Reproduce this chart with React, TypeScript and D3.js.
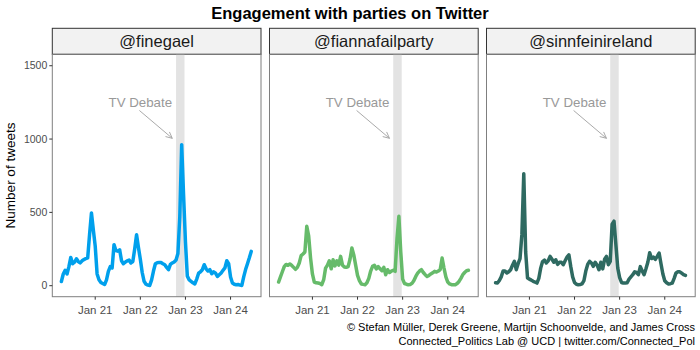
import React from "react";
import * as d3 from "d3";

const parties = ["@finegael", "@fiannafailparty", "@sinnfeinireland"];
const lineColors = ["#00A0EC", "#66BB6A", "#2E6A61"];

// hourly values, starting 20 Jan 2020 06:00
const fineGael = [
  29, 80, 105, 80, 130, 193, 150, 160, 184, 165,
  155, 170, 178, 185, 190, 350, 496, 380, 270, 80,
  40, 22, 15, 8, 40, 98, 130, 121, 280, 240,
  235, 245, 170, 150, 160, 170, 175, 155, 165, 250,
  348, 260, 180, 90, 30, 10, 4, 2, 40, 100,
  150, 157, 159, 158, 150, 143, 125, 110, 145, 155,
  162, 175, 220, 470, 962, 620, 300, 65, 40, 30,
  20, 12, 45, 85, 95, 109, 143, 115, 100, 109,
  82, 95, 85, 63, 75, 87, 105, 121, 170, 150,
  60, 18, 10, 7, 8, 4, 2, 60, 110, 150,
  190, 234,
];
const fiannaFail = [
  25, 60, 95, 130, 145, 139, 148, 138, 125, 112,
  125, 155, 205, 216, 230, 405, 340, 190, 80, 25,
  20, 18, 15, 7, 41, 120, 140, 170, 115, 177,
  135, 170, 140, 200, 140, 128, 125, 130, 180, 257,
  210, 140, 70, 35, 12, 9, 7, 20, 50, 100,
  132, 139, 115, 130, 115, 102, 125, 75, 109, 90,
  100, 105, 98, 320, 473, 230, 45, 15, 10, 7,
  8, 16, 35, 63, 85, 100, 109, 90, 75, 63,
  70, 80, 88, 98, 93, 100, 110, 189, 120, 60,
  25, 12, 7, 7, 7, 15, 29, 50, 75, 90,
  102, 105,
];
const sinnFein = [
  20, 18, 35, 60, 100, 100, 87, 95, 109, 140,
  166, 109, 150, 185, 350, 764, 230, 52, 45, 38,
  30, 25, 18, 50, 120, 165, 175, 155, 170, 200,
  180, 160, 177, 145, 160, 160, 143, 170, 195, 211,
  130, 60, 22, 10, 7, 8, 12, 35, 100, 145,
  166, 155, 132, 160, 140, 109, 160, 115, 180, 200,
  143, 166, 420, 440, 280, 120, 55, 22, 18, 18,
  20, 45, 60, 75, 95, 90, 75, 130, 100, 75,
  115, 160, 225, 185, 195, 180, 200, 223, 150, 80,
  34, 20, 12, 14, 18, 50, 87, 95, 95, 85,
  75, 70,
];
const seriesList = [fineGael, fiannaFail, sinnFein];

const yTicks = [0, 500, 1000, 1500];
const xTickLabels = ["Jan 21", "Jan 22", "Jan 23", "Jan 24"];
const xTickDates = [
  new Date(2020, 0, 21),
  new Date(2020, 0, 22),
  new Date(2020, 0, 23),
  new Date(2020, 0, 24),
];
const debateStart = new Date(2020, 0, 22, 19, 0);
const debateEnd = new Date(2020, 0, 22, 23, 30);
const labelAt = { time: new Date(2020, 0, 22, 0, 0), value: 1250 };
const arrowFrom = { time: new Date(2020, 0, 21, 23, 30), value: 1195 };
const arrowTo = { time: new Date(2020, 0, 22, 17, 0), value: 1005 };

const W = 700;
const H = 350;
const panelLefts = [52.3, 269.5, 486.5];
const panelW = 208.7;
const stripTop = 28.3;
const stripBottom = 54.3;
const panelBottom = 296.7;
const font = "'Liberation Sans', Arial, Helvetica, sans-serif";

export default function App() {
  const x = d3
    .scaleTime()
    .domain([new Date(2020, 0, 20, 1, 10), new Date(2020, 0, 24, 16, 12)])
    .range([0, panelW]);
  const y = d3.scaleLinear().domain([-75, 1578]).range([panelBottom, stripBottom]);
  const timeOf = (i: number) => new Date(2020, 0, 20, 6 + i);
  const line = d3
    .line<number>()
    .x((_, i) => x(timeOf(i)))
    .y((d) => y(d));

  const ax1 = x(arrowFrom.time), ay1 = y(arrowFrom.value);
  const ax2 = x(arrowTo.time), ay2 = y(arrowTo.value);
  const ang = Math.atan2(ay2 - ay1, ax2 - ax1);
  const headLen = 7;
  const headA = Math.PI / 7;
  const head = [
    [ax2 - headLen * Math.cos(ang - headA), ay2 - headLen * Math.sin(ang - headA)],
    [ax2, ay2],
    [ax2 - headLen * Math.cos(ang + headA), ay2 - headLen * Math.sin(ang + headA)],
  ];

  return (
    <svg width={W} height={H} style={{ display: "block", position: "absolute", left: 0, top: 0 }} fontFamily={font}>
      <rect width={W} height={H} fill="#fff" />
      <text x={350} y={19} textAnchor="middle" fontSize={16.5} fontWeight="bold" fill="#000">
        Engagement with parties on Twitter
      </text>
      <text
        transform={`translate(15,${(stripBottom + panelBottom) / 2}) rotate(-90)`}
        textAnchor="middle"
        fontSize={13.5}
        fill="#000"
      >
        Number of tweets
      </text>
      {panelLefts.map((left, p) => (
        <g key={p} transform={`translate(${left},0)`}>
          <rect x={0} y={stripTop} width={panelW} height={stripBottom - stripTop} fill="#f2f2f2" stroke="#333" strokeWidth={1} />
          <text x={panelW / 2} y={stripTop + 19} textAnchor="middle" fontSize={16.5} fill="#1a1a1a">
            {parties[p]}
          </text>
          <rect
            x={x(debateStart)}
            y={stripBottom}
            width={x(debateEnd) - x(debateStart)}
            height={panelBottom - stripBottom}
            fill="#e3e3e3"
          />
          <path
            d={line(seriesList[p]) || ""}
            fill="none"
            stroke={lineColors[p]}
            strokeWidth={3.5}
            strokeLinejoin="round"
            strokeLinecap="round"
          />
          <text x={x(labelAt.time)} y={y(labelAt.value) + 4.5} textAnchor="middle" fontSize={13.3} fill="#999">
            TV Debate
          </text>
          <line x1={ax1} y1={ay1} x2={ax2} y2={ay2} stroke="#aaa" strokeWidth={1} />
          <polyline points={head.map((d) => d.join(",")).join(" ")} fill="none" stroke="#aaa" strokeWidth={1} />
          <rect x={0} y={stripBottom} width={panelW} height={panelBottom - stripBottom} fill="none" stroke="#7f7f7f" strokeWidth={1} />
          {xTickDates.map((d, i) => (
            <g key={i} transform={`translate(${x(d)},${panelBottom})`}>
              <line y1={0} y2={3} stroke="#333" strokeWidth={1} />
              <text y={17} textAnchor="middle" fontSize={11.5} fill="#4d4d4d">
                {xTickLabels[i]}
              </text>
            </g>
          ))}
          {p === 0 &&
            yTicks.map((t) => (
              <g key={t} transform={`translate(0,${y(t)})`}>
                <line x1={-3} x2={0} stroke="#333" strokeWidth={1} />
                <text x={-5} dy="0.35em" textAnchor="end" fontSize={10.5} fill="#4d4d4d">
                  {t}
                </text>
              </g>
            ))}
        </g>
      ))}
      <text x={695} y={331} textAnchor="end" fontSize={11} fill="#000">
        © Stefan Müller, Derek Greene, Martijn Schoonvelde, and James Cross
      </text>
      <text x={695} y={345} textAnchor="end" fontSize={11} fill="#000">
        Connected_Politics Lab @ UCD | twitter.com/Connected_Pol
      </text>
    </svg>
  );
}
